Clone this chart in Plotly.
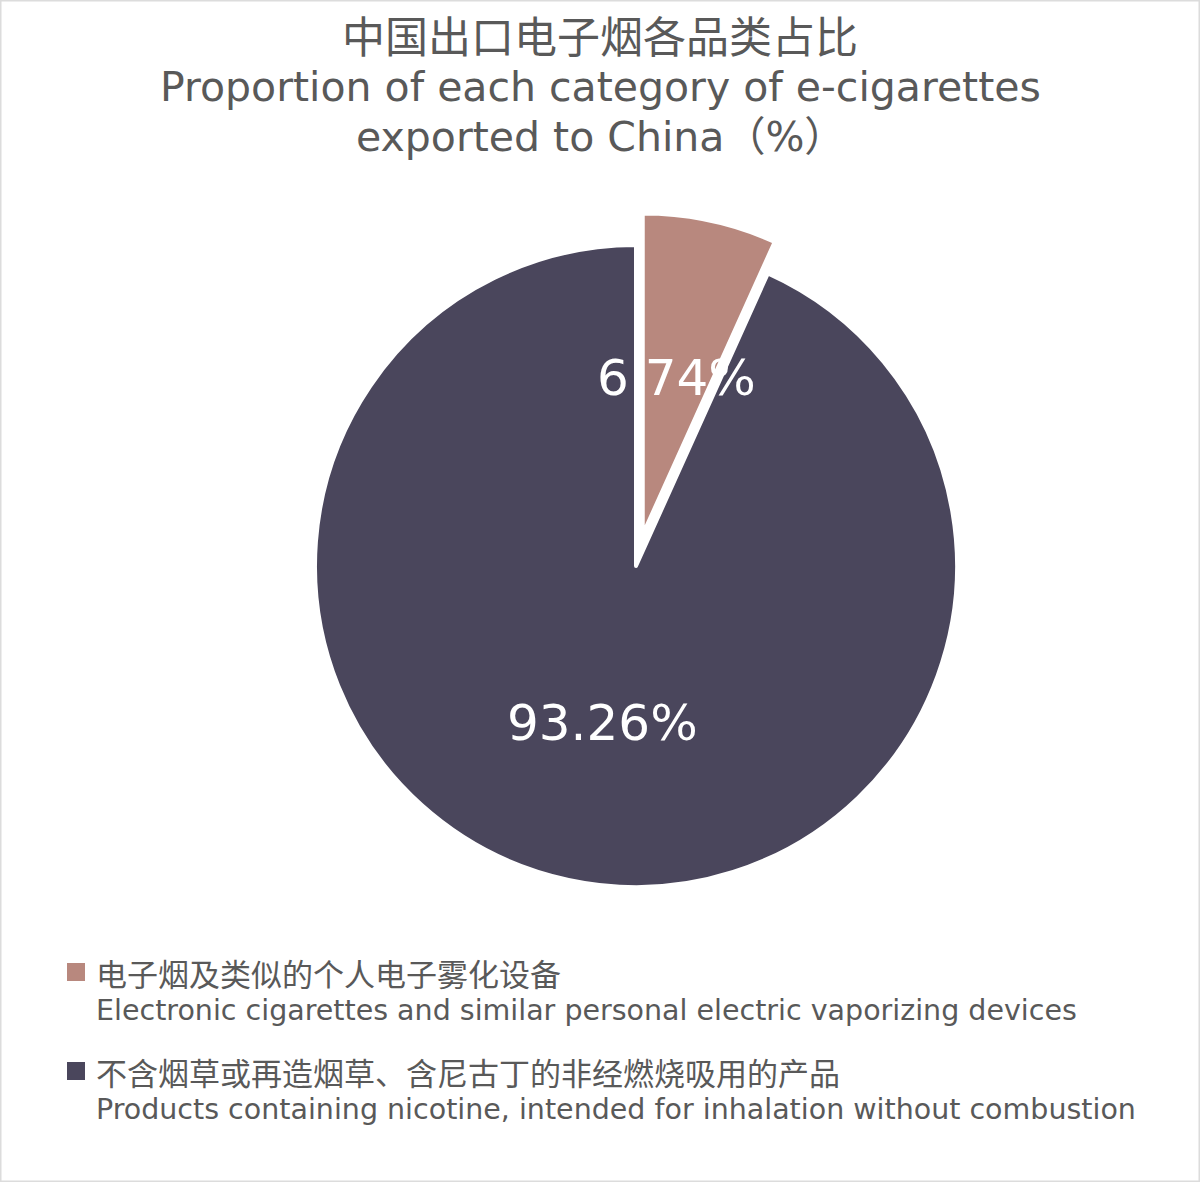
import math
import plotly.graph_objects as go

# data
title_lines = ["中国出口电子烟各品类占比", "Proportion of each category of e-cigarettes", "exported to China（%）"]
labels_cn = ["电子烟及类似的个人电子雾化设备", "不含烟草或再造烟草、含尼古丁的非经燃烧吸用的产品"]
labels_en = [
    "Electronic cigarettes and similar personal electric vaporizing devices",
    "Products containing nicotine, intended for inhalation without combustion",
]
shares = [6.74, 93.26]
pulls = [0.1, 0.0]
colors = ["#B8887E", "#4A465C"]

W, H = 1200, 1182
LATIN = "DejaVu Sans, Noto Sans CJK SC, sans-serif"
CJK = "Noto Sans CJK SC, sans-serif"
GREY = "#595959"

# pie placement (pixels, from the top-left corner)
cx, cy, r = 636, 566, 321
half = r * (1 + max(pulls))
dom_x = [(cx - half) / W, (cx + half) / W]
dom_y = [(H - cy - half) / H, (H - cy + half) / H]


def px(x):
    return x / W


def py(y):
    return 1 - y / H


fig = go.Figure(
    go.Pie(
        labels=[c + "<br>" + e for c, e in zip(labels_cn, labels_en)],
        values=shares,
        pull=pulls,
        sort=False,
        direction="clockwise",
        rotation=0,
        textinfo="none",
        hoverinfo="label+percent",
        showlegend=False,
        marker=dict(colors=colors, line=dict(color="white", width=4)),
        domain=dict(x=dom_x, y=dom_y),
    )
)

annotations = []

# percentage labels: halfway out along each slice's bisector
start = 0.0
for val, p in zip(shares, pulls):
    mid = (start + val / 2) / 100 * 2 * math.pi
    dist = r * (0.5 + p)
    annotations.append(
        dict(
            x=px(cx + dist * math.sin(mid)),
            y=py(cy - dist * math.cos(mid)),
            xanchor="center",
            yanchor="middle",
            text=f"{val:.2f}%",
            showarrow=False,
            font=dict(family=LATIN, size=50, color="white"),
        )
    )
    start += val

# title, one annotation per line
title_y = [34, 87, 137]
title_fonts = [dict(family=CJK, size=43, color=GREY), dict(family=LATIN, size=41, color=GREY), dict(family=LATIN, size=41, color=GREY)]
for line, yy, f in zip(title_lines, title_y, title_fonts):
    annotations.append(dict(x=0.5, y=py(yy), text=line, showarrow=False, font=f, xanchor="center", yanchor="middle"))

# legend drawn by hand: square + two text lines per slice
shapes = []
leg_y = [972, 1071]
for cn, en, col, yy in zip(labels_cn, labels_en, colors, leg_y):
    shapes.append(dict(type="rect", xref="paper", yref="paper",
                       x0=px(67), x1=px(85), y0=py(yy + 9), y1=py(yy - 9),
                       fillcolor=col, line=dict(width=0)))
    annotations.append(dict(x=px(94), y=py(yy), text=cn, showarrow=False, xanchor="left", yanchor="middle",
                            font=dict(family=CJK, size=31, color=GREY)))
    annotations.append(dict(x=px(94), y=py(yy + 38), text=en, showarrow=False, xanchor="left", yanchor="middle",
                            font=dict(family=LATIN, size=28.5, color=GREY)))

# thin frame around the picture
shapes.append(dict(type="rect", xref="paper", yref="paper", x0=0, y0=0, x1=1, y1=1,
                   line=dict(color="#DCDCDC", width=3)))

for a in annotations:
    a.setdefault("xref", "paper")
    a.setdefault("yref", "paper")

fig.update_layout(
    width=W,
    height=H,
    margin=dict(l=0, r=0, t=0, b=0),
    paper_bgcolor="white",
    plot_bgcolor="white",
    annotations=annotations,
    shapes=shapes,
)

fig.write_html("out.html", config={"displayModeBar": False},
               post_script="document.body.style.margin='0';")
